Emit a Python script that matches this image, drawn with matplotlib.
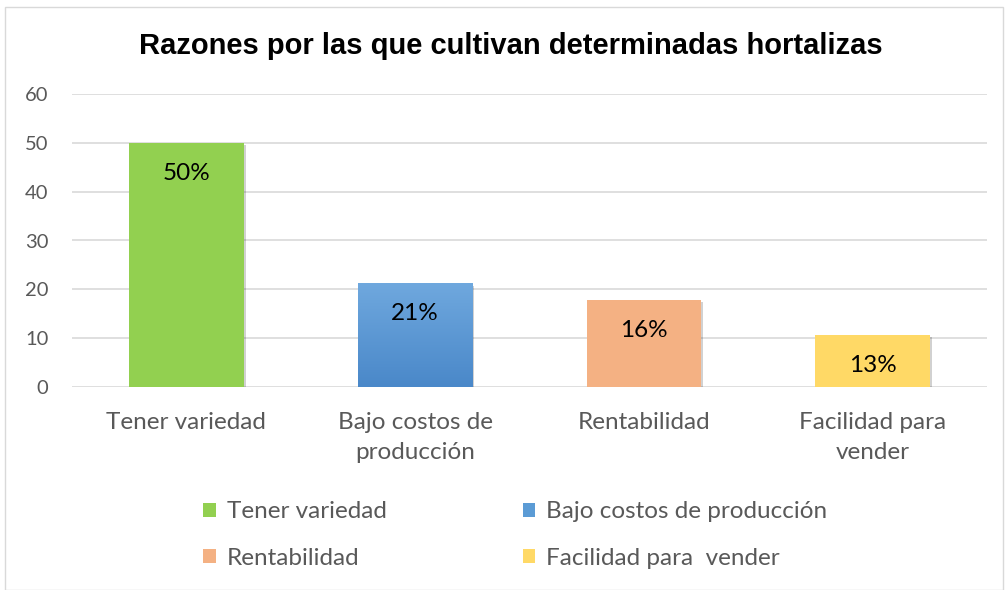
import matplotlib
matplotlib.use("Agg")
import matplotlib.pyplot as plt
import matplotlib.patheffects as pe
from matplotlib.patches import Rectangle, Patch
from matplotlib.colors import LinearSegmentedColormap
import numpy as np

categories = ["Tener variedad", "Bajo costos de\nproducción", "Rentabilidad", "Facilidad para\nvender"]
legend_labels = ["Tener variedad", "Bajo costos de producción", "Rentabilidad", "Facilidad para  vender"]
values = [50, 21.2, 17.8, 10.6]
bar_labels = ["50%", "21%", "16%", "13%"]
colors = ["#92D050", "#5B9BD5", "#F4B183", "#FFD966"]
yticks = [0, 10, 20, 30, 40, 50, 60]

body_font = ["Lato", "DejaVu Sans"]

fig = plt.figure(figsize=(10.06, 5.90), dpi=100)
fig.patches.append(Rectangle((5/1006, 0), 1 - 8/1006, 1 - 7/590, transform=fig.transFigure,
                             fill=False, edgecolor="#D9D9D9", linewidth=1))
ax = fig.add_axes([72/1006, 1 - 387/590, (987 - 72)/1006, (387 - 94)/590])

x = np.arange(len(categories))
bars = ax.bar(x, values, width=0.5, color=colors, zorder=3)
for b in bars:
    b.set_path_effects([pe.SimplePatchShadow(offset=(1.5, -1.5), shadow_rgbFace="#000000", alpha=0.18),
                        pe.Normal()])

# gradient for blue bar
b = bars[1]
grad = np.linspace(0, 1, 100).reshape(-1, 1)
cmap = LinearSegmentedColormap.from_list("g", ["#4A88C9", "#6FA8DE"])
ax.imshow(grad, extent=(b.get_x(), b.get_x() + b.get_width(), 0, b.get_height()), origin="lower",
          aspect="auto", cmap=cmap, zorder=3.5)

for bb, lab in zip(bars, bar_labels):
    ax.text(bb.get_x() + bb.get_width() / 2, bb.get_height() - 6.2, lab, ha="center", va="center",
            fontsize=17.5, color="#000000", family=body_font, zorder=5)

ax.set_xlim(-0.5, len(categories) - 0.5)
ax.set_ylim(0, 60)
ax.set_yticks(yticks)
ax.yaxis.grid(True, color="#D9D9D9", linewidth=1.2, zorder=0)
ax.set_axisbelow(True)
for s in ax.spines.values():
    s.set_visible(False)
ax.tick_params(axis="both", length=0, labelcolor="#595959")
ax.tick_params(axis="y", pad=17, labelsize=14.5)
ax.tick_params(axis="x", pad=18, labelsize=17.5)
ax.set_xticks(x)
ax.set_xticklabels(categories, family=body_font, linespacing=1.55)
for t in ax.get_yticklabels():
    t.set_family(body_font)

fig.text(0.508, 1 - 46/590, "Razones por las que cultivan determinadas hortalizas", ha="center", va="center",
         fontsize=21, fontweight="bold", family=["Liberation Sans", "DejaVu Sans"], color="#000000")

order = [0, 2, 1, 3]
handles = [Patch(facecolor=colors[i], edgecolor="none") for i in order]
labels = [legend_labels[i] for i in order]
leg = fig.legend(handles, labels, ncol=2, loc="center", bbox_to_anchor=(0.512, 1 - 535/590),
                 frameon=False, prop={"family": body_font, "size": 17.5}, labelcolor="#595959",
                 handlelength=0.52, handleheight=0.52, handletextpad=0.45, columnspacing=5.6,
                 labelspacing=1.05)

fig.savefig("out.png", dpi=100)
